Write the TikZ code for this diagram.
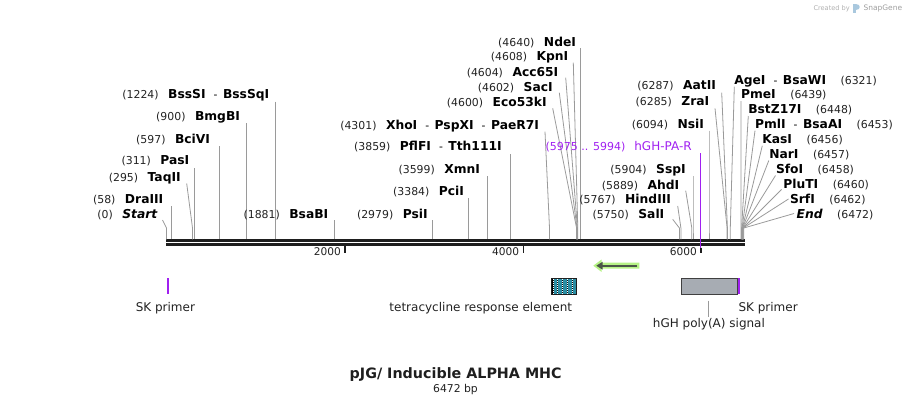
\documentclass[tikz,border=0pt]{standalone}
\usepackage{fontspec}
\setmainfont{DejaVu Sans}
\definecolor{linegray}{HTML}{9A9A9A}
\definecolor{ink}{HTML}{1E1E1E}
\definecolor{numink}{HTML}{222222}
\definecolor{fpurple}{HTML}{A020F0}
\definecolor{agreen}{HTML}{B6F286}
\definecolor{adark}{HTML}{4B5548}
\definecolor{tteal}{HTML}{2B8DA3}
\definecolor{hghgray}{HTML}{A7ACB3}
\definecolor{sgray}{HTML}{B0B0B0}
\definecolor{sblue}{HTML}{A9C8DE}
\newcommand\enznum[1]{{\fontsize{10.9}{12}\selectfont\color{numink}#1}}
\newcommand\enzname[1]{{\fontsize{12.3}{14}\selectfont\bfseries #1}}
\newcommand\enzsep{{\fontsize{10.8}{12}\selectfont\hspace{8pt}-\hspace{5.5pt}}}
\newcommand\lgap{\hspace{9.5pt}}
\newcommand\rgap{\hspace{14.5pt}}
\newcommand\cutline[4]{%
  \coordinate (s#1) at (#2,#3);
  \coordinate (b#1) at (#4,228);
  \coordinate (t#1) at (#4,239.3);
  \draw[cut] (s#1) -- (b#1) -- (t#1);}
\begin{document}
\begin{tikzpicture}[x=1pt,y=-1pt,
  lbl/.style={inner sep=0pt, outer sep=0pt, anchor=base east},
  rlbl/.style={inner sep=0pt, outer sep=0pt, anchor=base west},
  cut/.style={draw=linegray, line width=0.8pt},
  bbone/.style={draw=ink, line width=2.5pt},
  tick/.style={draw=ink, line width=1.6pt},
  ticklbl/.style={inner sep=0pt, anchor=base east, font=\fontsize{10.6}{12}\selectfont, text=numink},
  featlbl/.style={inner sep=0pt, font=\fontsize{12}{14}\selectfont, text=numink},
  primer/.style={draw=fpurple, line width=2pt}]
\useasboundingbox (0,0) rectangle (911,405);

% ---------- backbone ----------
\coordinate (bbL1) at (166,240.4); \coordinate (bbR1) at (744.5,240.4);
\coordinate (bbL2) at (166,244.6); \coordinate (bbR2) at (744.5,244.6);
\draw[bbone] (bbL1) -- (bbR1);
\draw[bbone] (bbL2) -- (bbR2);

% ---------- left-side labels ----------
\node[lbl] (BssSI) at (269.3,98.5) {\enznum{(1224)}\lgap\enzname{BssSI}\enzsep\enzname{BssSqI}};
\cutline{BssSI}{275.7}{101.7}{275.7}
\node[lbl] (BmgBI) at (240,120.7) {\enznum{(900)}\lgap\enzname{BmgBI}};
\cutline{BmgBI}{246.8}{123}{246.8}
\node[lbl] (BciVI) at (210,143.3) {\enznum{(597)}\lgap\enzname{BciVI}};
\cutline{BciVI}{219.8}{146}{219.8}
\node[lbl] (PasI) at (189.3,164.3) {\enznum{(311)}\lgap\enzname{PasI}};
\cutline{PasI}{194.2}{168}{194.2}
\node[lbl] (TaqII) at (180.7,181.7) {\enznum{(295)}\lgap\enzname{TaqII}};
\cutline{TaqII}{186.7}{183.5}{192.5}
\node[lbl] (DraIII) at (163.3,203.3) {\enznum{(58)}\lgap\enzname{DraIII}};
\cutline{DraIII}{171.5}{206}{171.5}
\node[lbl] (Start) at (157.3,218.3) {\enznum{(0)}\lgap\enzname{\itshape Start}};
\cutline{Start}{162.5}{220}{166.5}
\node[lbl] (BsaBI) at (328.3,218.3) {\enznum{(1881)}\lgap\enzname{BsaBI}};
\cutline{BsaBI}{334.3}{220}{334.3}
\node[lbl] (PsiI) at (427.7,218.3) {\enznum{(2979)}\lgap\enzname{PsiI}};
\cutline{PsiI}{432.5}{220}{432.5}
\node[lbl] (PciI) at (464,195.7) {\enznum{(3384)}\lgap\enzname{PciI}};
\cutline{PciI}{468.4}{198.3}{468.4}
\node[lbl] (XmnI) at (480,173.3) {\enznum{(3599)}\lgap\enzname{XmnI}};
\cutline{XmnI}{487.6}{176}{487.6}
\node[lbl] (PflFI) at (501.7,150.7) {\enznum{(3859)}\lgap\enzname{PflFI}\enzsep\enzname{Tth111I}};
\cutline{PflFI}{510.5}{154}{510.5}
\node[lbl] (XhoI) at (539,129) {\enznum{(4301)}\lgap\enzname{XhoI}\enzsep\enzname{PspXI}\enzsep\enzname{PaeR7I}};
\cutline{XhoI}{545}{131.7}{549.5}
\node[lbl] (Eco53kI) at (546.7,106) {\enznum{(4600)}\lgap\enzname{Eco53kI}};
\cutline{Eco53kI}{552.7}{108.3}{576.6}
\node[lbl] (SacI) at (552.7,91) {\enznum{(4602)}\lgap\enzname{SacI}};
\cutline{SacI}{559.3}{92.7}{577.0}
\node[lbl] (Acc65I) at (558.3,76) {\enznum{(4604)}\lgap\enzname{Acc65I}};
\cutline{Acc65I}{565.7}{77.7}{577.4}
\node[lbl] (KpnI) at (568.3,60.7) {\enznum{(4608)}\lgap\enzname{KpnI}};
\cutline{KpnI}{573.3}{62.7}{577.8}
\node[lbl] (NdeI) at (576,46) {\enznum{(4640)}\lgap\enzname{NdeI}};
\cutline{NdeI}{580.4}{48.3}{580.4}

% ---------- primer site label ----------
\node[lbl, text=fpurple] (hGHPAR) at (691.7,150.7) {{\fontsize{11}{12}\selectfont(5975 .. 5994)}\hspace{9pt}{\fontsize{12}{14}\selectfont hGH-PA-R}};
\coordinate (phGH) at (700.5,153.3);
\coordinate (qhGH) at (700.5,250);

\node[lbl] (NsiI) at (704,128.3) {\enznum{(6094)}\lgap\enzname{NsiI}};
\cutline{NsiI}{709}{130.7}{709}
\node[lbl] (SspI) at (685.7,173.3) {\enznum{(5904)}\lgap\enzname{SspI}};
\cutline{SspI}{693}{176}{693}
\node[lbl] (AhdI) at (679.3,189) {\enznum{(5889)}\lgap\enzname{AhdI}};
\cutline{AhdI}{685.7}{190.7}{691.8}
\node[lbl] (HindIII) at (671,203.3) {\enznum{(5767)}\lgap\enzname{HindIII}};
\cutline{HindIII}{677.7}{206}{680.9}
\node[lbl] (SalI) at (664.3,218.3) {\enznum{(5750)}\lgap\enzname{SalI}};
\cutline{SalI}{672.7}{219.3}{679.4}
\node[lbl] (ZraI) at (709.3,105) {\enznum{(6285)}\lgap\enzname{ZraI}};
\cutline{ZraI}{715}{108.3}{727.1}
\node[lbl] (AatII) at (716,89.3) {\enznum{(6287)}\lgap\enzname{AatII}};
\cutline{AatII}{721.7}{92.7}{727.4}

% ---------- right-side labels ----------
\node[rlbl] (AgeI) at (734.3,84) {\enzname{AgeI}\enzsep\enzname{BsaWI}\rgap\enznum{(6321)}};
\cutline{AgeI}{734.3}{86.7}{730.3}
\node[rlbl] (PmeI) at (741,98.3) {\enzname{PmeI}\rgap\enznum{(6439)}};
\cutline{PmeI}{741}{101}{740.9}
\node[rlbl] (BstZ17I) at (748.3,113.3) {\enzname{BstZ17I}\rgap\enznum{(6448)}};
\cutline{BstZ17I}{748.3}{116}{741.6}
\node[rlbl] (PmlI) at (755,128.3) {\enzname{PmlI}\enzsep\enzname{BsaAI}\rgap\enznum{(6453)}};
\cutline{PmlI}{755}{130.7}{742.1}
\node[rlbl] (KasI) at (762.3,143.3) {\enzname{KasI}\rgap\enznum{(6456)}};
\cutline{KasI}{762.3}{145.7}{742.4}
\node[rlbl] (NarI) at (769.3,158.3) {\enzname{NarI}\rgap\enznum{(6457)}};
\cutline{NarI}{768.8}{160.5}{742.6}
\node[rlbl] (SfoI) at (776,173.3) {\enzname{SfoI}\rgap\enznum{(6458)}};
\cutline{SfoI}{775.5}{175.5}{742.8}
\node[rlbl] (PluTI) at (783.3,188.3) {\enzname{PluTI}\rgap\enznum{(6460)}};
\cutline{PluTI}{781.5}{189.5}{743.0}
\node[rlbl] (SrfI) at (790,203.3) {\enzname{SrfI}\rgap\enznum{(6462)}};
\cutline{SrfI}{788.5}{199}{743.2}
\node[rlbl] (End) at (796.7,218.3) {\enzname{\itshape End}\rgap\enznum{(6472)}};
\cutline{End}{794}{213.5}{743.8}

% primer line over the backbone
\draw[fpurple, line width=1.5pt] (phGH) -- (qhGH);

% ---------- ticks ----------
\coordinate (k2a) at (345,246); \coordinate (k2b) at (345,252.5);
\coordinate (k4a) at (523.5,246); \coordinate (k4b) at (523.5,252.5);
\coordinate (k6a) at (701,247.5); \coordinate (k6b) at (701,252.5);
\draw[tick] (k2a) -- (k2b);
\draw[tick] (k4a) -- (k4b);
\draw[tick] (k6a) -- (k6b);
\node[ticklbl] (t2000) at (341,255.7) {2000};
\node[ticklbl] (t4000) at (519.3,255.7) {4000};
\node[ticklbl] (t6000) at (697,255.7) {6000};

% ---------- features ----------
% SK primer (left)
\coordinate (sk1a) at (167.7,278.3); \coordinate (sk1b) at (167.7,293.8);
\draw[primer] (sk1a) -- (sk1b);
\node[featlbl, anchor=base] (sk1lbl) at (165.4,311.7) {SK primer};

% tetracycline response element
\node[draw=ink, fill=tteal, line width=0.6pt, minimum width=24.7pt, minimum height=16pt, inner sep=0pt, anchor=north west] (tre) at (551,278.3) {};
\foreach \xx in {553,557.5,562.5,567.5,572.5}{
  \draw[black, line width=1.4pt] (\xx,278.6) -- (\xx,294);
  \draw[white, line width=0.7pt, dash pattern=on 1pt off 1pt] (\xx,278.6) -- (\xx,294);
}
\node[featlbl, anchor=base east] (trelbl) at (572.3,311.7) {tetracycline response element};

% green arrow
\fill[agreen] (593.3,265.7) -- (601.5,259.5) -- (601.5,262.7) -- (639.3,262.7) -- (639.3,268.7) -- (601.5,268.7) -- (601.5,271.9) -- cycle;
\coordinate (gaR) at (637.3,265.7); \coordinate (gaL) at (600.5,265.7);
\draw[adark, line width=2.4pt] (gaR) -- (gaL);
\fill[adark] (596.3,265.7) -- (602.5,261.8) -- (602.5,269.6) -- cycle;

% hGH poly(A) signal
\node[draw=ink!85, fill=hghgray, line width=0.8pt, minimum width=55.7pt, minimum height=16pt, inner sep=0pt, anchor=north west] (hgh) at (681,278.3) {};
\coordinate (hghL1) at (708.3,300.7); \coordinate (hghL2) at (708.3,316.7);
\draw[linegray, line width=0.8pt] (hghL1) -- (hghL2);
\node[featlbl, anchor=base] (hghlbl) at (708.9,327.3) {hGH poly(A) signal};

% SK primer (right)
\coordinate (sk2a) at (739,278.3); \coordinate (sk2b) at (739,294.3);
\draw[primer] (sk2a) -- (sk2b);
\node[featlbl, anchor=base west] (sk2lbl) at (738.3,311.7) {SK primer};

% ---------- title ----------
\node[inner sep=0pt, anchor=base, font=\fontsize{14.3}{16}\selectfont\bfseries, text=ink] (title) at (455.7,378.3) {pJG/ Inducible ALPHA MHC};
\node[inner sep=0pt, anchor=base, font=\fontsize{10.8}{12}\selectfont, text=numink] (bp) at (455.5,392.7) {6472 bp};

% ---------- SnapGene mark ----------
\node[inner sep=0pt, anchor=base west, font=\fontsize{6.6}{8}\selectfont, text=sgray] (created) at (813.3,10) {Created by};
\fill[sblue] (853.3,3.5) rectangle (855.8,13);
\fill[sblue] (855.8,3.5) .. controls (860.5,3.5) and (860.5,9.5) .. (855.8,9.5) -- cycle;
\node[inner sep=0pt, anchor=base west, font=\fontsize{7.5}{9}\selectfont, text=sgray!90!black] (sgname) at (863.3,10.3) {SnapGene};
\end{tikzpicture}
\end{document}
